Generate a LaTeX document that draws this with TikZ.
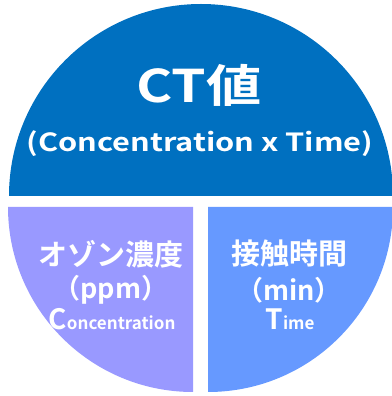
\documentclass[tikz,border=0pt]{standalone}
\usepackage{fontspec}
\setmainfont{Noto Sans CJK JP}[BoldFont={* Bold}]
\newfontfamily\widefont{Noto Sans CJK JP Bold}[FakeStretch=1.23]
\definecolor{ctblue}{HTML}{0070C0}
\definecolor{concol}{HTML}{9999FF}
\definecolor{timecol}{HTML}{6699FF}
\tikzset{
  lbl/.style={text=white, font=\bfseries, inner sep=0pt},
}
\begin{document}
\begin{tikzpicture}[x=1pt,y=1pt]
\useasboundingbox (0,0) rectangle (391,396);
% pieces
\fill[ctblue] (9,200) arc[start angle=180,end angle=0,radius=192] -- cycle;
\fill[concol] (193,189) -- (8,189) arc[start angle=180,end angle=270,radius=185] -- cycle;
\fill[timecol] (208,189) -- (208,4) arc[start angle=270,end angle=360,radius=185] -- cycle;
% labels
\node[lbl, font=\widefont\fontsize{45}{50}\selectfont, anchor=base] (ct) at (199,293) {CT値};
\node[lbl, font=\widefont\fontsize{25}{28}\selectfont, anchor=base] (ctsub) at (200,244) {(Concentration x Time)};
\node[lbl, font=\bfseries\fontsize{29}{30}\selectfont] (ozone) at (111,142) {オゾン濃度};
\node[lbl, font=\bfseries\fontsize{27}{30}\selectfont] (ppm) at (111,106) {（ppm）};
\node[lbl, anchor=base] (conc) at (112,66) {{\fontsize{28}{30}\selectfont C}{\fontsize{17}{20}\selectfont oncentration}};
\node[lbl, font=\bfseries\fontsize{29}{30}\selectfont] (contact) at (289,142) {接触時間};
\node[lbl, font=\bfseries\fontsize{27}{30}\selectfont] (minu) at (289,106) {（min）};
\node[lbl, anchor=base] (timel) at (290,66) {{\fontsize{28}{30}\selectfont T}{\fontsize{17}{20}\selectfont ime}};
\end{tikzpicture}
\end{document}
